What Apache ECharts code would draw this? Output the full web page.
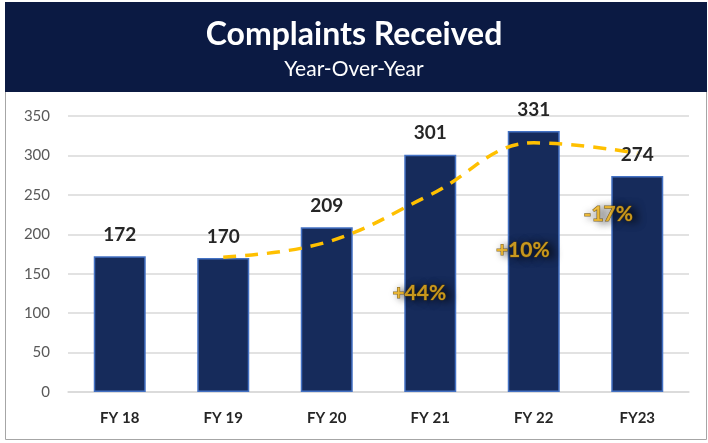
<!DOCTYPE html>
<html>
<head>
<meta charset="utf-8">
<script src="https://cdn.jsdelivr.net/npm/echarts@6/dist/echarts.min.js"></script>
<style>
  html, body { margin: 0; padding: 0; background: #fff; }
  #main { width: 708px; height: 443px; }
</style>
</head>
<body>
<div id="main"></div>
<script>
// 数据
var years = ['FY 18', 'FY 19', 'FY 20', 'FY 21', 'FY 22', 'FY23'];
var complaints = [172, 170, 209, 301, 331, 274];
// 两期移动平均趋势线
var trend = [null, 171, 190, 250, 316, 303];
// 同比变化标签
var pctYears = ['FY 21', 'FY 22', 'FY23'];
var pctLabels = ['+44%', '+10%', '-17%'];
var pctLevels = [125, 180, 226];
var pctShift = [-11, -11, -29];

var chart = echarts.init(document.getElementById('main'));

var pctData = [];
for (var i = 0; i < pctYears.length; i++) {
    pctData.push({
        value: [pctYears[i], pctLevels[i]],
        label: { offset: [pctShift[i], 0], formatter: pctLabels[i] }
    });
}

chart.setOption({
    animation: false,
    graphic: [
        { // 外框
            type: 'rect',
            shape: { x: 5.5, y: 2.5, width: 701, height: 437 },
            style: { fill: 'none', stroke: '#a6a6a6', lineWidth: 1 },
            z: 0
        },
        { // 标题背景
            type: 'rect',
            shape: { x: 5, y: 2, width: 702, height: 90 },
            style: { fill: '#0b1a43' },
            z: 1
        }
    ],
    title: {
        text: 'Complaints Received',
        subtext: 'Year-Over-Year',
        left: 'center',
        top: 14,
        itemGap: 8,
        textStyle: { color: '#fff', fontFamily: 'Lato', fontWeight: 'bold', fontSize: 32 },
        subtextStyle: { color: '#fff', fontFamily: 'Lato', fontSize: 21 }
    },
    grid: { left: 68, right: 19, top: 116, bottom: 51 },
    xAxis: {
        type: 'category',
        data: years,
        axisLine: { lineStyle: { color: '#d9d9d9', width: 1.5 } },
        axisTick: { show: false },
        axisLabel: { color: '#262626', fontWeight: 'bold', fontSize: 15, fontFamily: 'Lato', margin: 19 }
    },
    yAxis: {
        type: 'value',
        min: 0,
        max: 350,
        interval: 50,
        axisLine: { show: false },
        axisTick: { show: false },
        splitLine: { lineStyle: { color: '#d9d9d9', width: 1.5 } },
        axisLabel: { color: '#595959', fontSize: 15, fontFamily: 'Lato', margin: 18 }
    },
    series: [
        {
            type: 'bar',
            data: complaints,
            barWidth: 52,
            itemStyle: { color: '#162b5b', borderColor: '#4472c4', borderWidth: 1.5 },
            label: {
                show: true,
                position: 'top',
                distance: 12,
                color: '#262626',
                fontWeight: 'bold',
                fontSize: 19,
                fontFamily: 'Lato'
            }
        },
        {
            type: 'line',
            data: trend,
            smooth: 0.4,
            symbol: 'none',
            lineStyle: { color: '#ffc000', width: 3.5, type: [13, 9] },
            z: 3
        },
        {
            type: 'scatter',
            data: pctData,
            symbolSize: 0,
            label: {
                show: true,
                position: 'inside',
                color: '#f2b51c',
                fontWeight: 'bold',
                fontSize: 21,
                fontFamily: 'Lato',
                textBorderColor: '#6b5010',
                textBorderWidth: 1,
                textShadowColor: 'rgba(0,0,0,0.85)',
                textShadowBlur: 8,
                textShadowOffsetX: 5,
                textShadowOffsetY: 1
            },
            z: 4
        }
    ]
});
</script>
</body>
</html>
